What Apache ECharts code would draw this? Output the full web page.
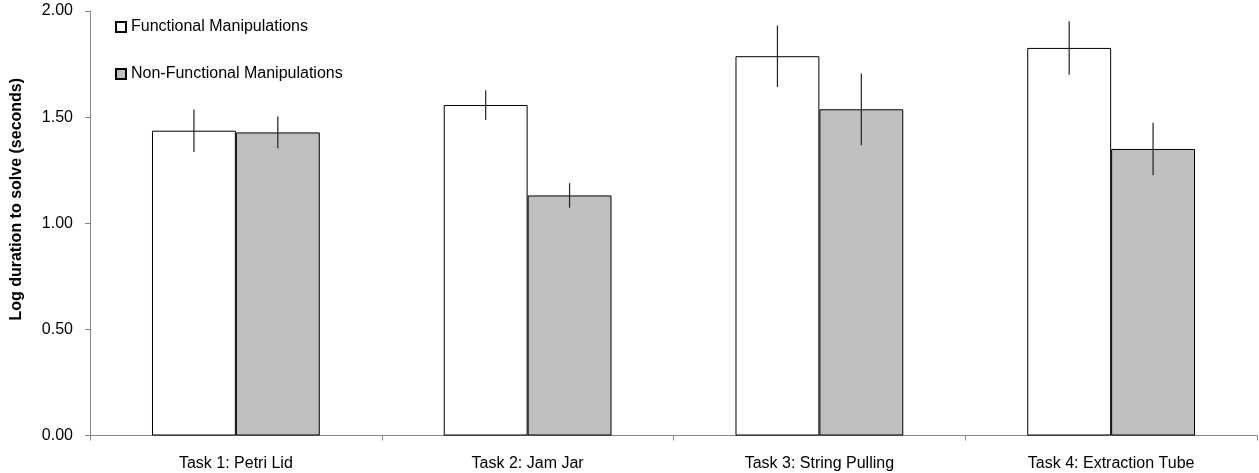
<!DOCTYPE html>
<html>
<head>
<meta charset="utf-8">
<script src="https://cdn.jsdelivr.net/npm/echarts@6/dist/echarts.min.js"></script>
<style>html,body{margin:0;padding:0;background:#fff}#c{width:1259px;height:473px}</style>
</head>
<body>
<div id="c"></div>
<script>
const categories = ['Task 1: Petri Lid', 'Task 2: Jam Jar', 'Task 3: String Pulling', 'Task 4: Extraction Tube'];
const functionalValues = [1.436, 1.557, 1.787, 1.826];
const functionalErrors = [0.100, 0.070, 0.145, 0.126];
const nonFunctionalValues = [1.428, 1.131, 1.537, 1.350];
const nonFunctionalErrors = [0.075, 0.058, 0.169, 0.124];
const yTicks = [0, 0.5, 1.0, 1.5, 2.0];

const CAT_GAP = 0.425;
function errData(vals, errs, sign) {
  return vals.map((v, i) => [i, v - errs[i], v + errs[i], sign]);
}
function renderErr(params, api) {
  const x = api.value(0);
  const lo = api.coord([x, api.value(1)]);
  const hi = api.coord([x, api.value(2)]);
  const cw = api.size([1, 0])[0];
  const bw = cw * (1 - CAT_GAP) / 2;
  const off = api.value(3) * bw / 2;
  return {
    type: 'line',
    shape: { x1: lo[0] + off, y1: lo[1], x2: hi[0] + off, y2: hi[1] },
    style: { stroke: '#222', lineWidth: 1.2 }
  };
}

const font = 'Liberation Sans, Arial, sans-serif';
const chart = echarts.init(document.getElementById('c'), null, { renderer: 'canvas' });
chart.setOption({
  animation: false,
  backgroundColor: '#fff',
  grid: { left: 90, right: 2, top: 11, bottom: 37.5, containLabel: false, outerBoundsMode: 'none' },
  legend: {
    orient: 'vertical',
    left: 110,
    top: 14,
    icon: 'rect',
    itemWidth: 10,
    itemHeight: 10,
    itemGap: 31,
    textStyle: { fontFamily: font, fontSize: 16, color: '#000' },
    data: ['Functional Manipulations', 'Non-Functional Manipulations']
  },
  xAxis: {
    type: 'category',
    data: categories,
    axisLine: { lineStyle: { color: '#868686', width: 1 } },
    axisTick: { show: true, length: 5, lineStyle: { color: '#868686' } },
    axisLabel: { fontFamily: font, fontSize: 16, color: '#000', margin: 20 }
  },
  yAxis: {
    type: 'value',
    min: yTicks[0],
    max: yTicks[yTicks.length - 1],
    interval: 0.5,
    name: 'Log duration to solve (seconds)',
    nameLocation: 'middle',
    nameGap: 65,
    nameTextStyle: { fontFamily: font, fontSize: 16, fontWeight: 'bold', color: '#000', padding: [0, 0, 0, 48] },
    axisLine: { show: true, lineStyle: { color: '#868686', width: 1 } },
    axisTick: { show: true, length: 5, lineStyle: { color: '#868686' } },
    splitLine: { show: false },
    axisLabel: { fontFamily: font, fontSize: 16, color: '#000', margin: 17, formatter: v => v.toFixed(2) }
  },
  series: [
    {
      name: 'Functional Manipulations',
      type: 'bar',
      data: functionalValues,
      barGap: '0%',
      barCategoryGap: (CAT_GAP * 100) + '%',
      itemStyle: { color: '#ffffff', borderColor: '#000', borderWidth: 1 }
    },
    {
      name: 'Non-Functional Manipulations',
      type: 'bar',
      data: nonFunctionalValues,
      barGap: '0%',
      barCategoryGap: (CAT_GAP * 100) + '%',
      itemStyle: { color: '#bfbfbf', borderColor: '#000', borderWidth: 1 }
    },
    {
      type: 'custom',
      renderItem: renderErr,
      data: errData(functionalValues, functionalErrors, -1),
      encode: { x: 0, y: [1, 2] },
      z: 10,
      silent: true
    },
    {
      type: 'custom',
      renderItem: renderErr,
      data: errData(nonFunctionalValues, nonFunctionalErrors, 1),
      encode: { x: 0, y: [1, 2] },
      z: 10,
      silent: true
    }
  ]
});
</script>
</body>
</html>
